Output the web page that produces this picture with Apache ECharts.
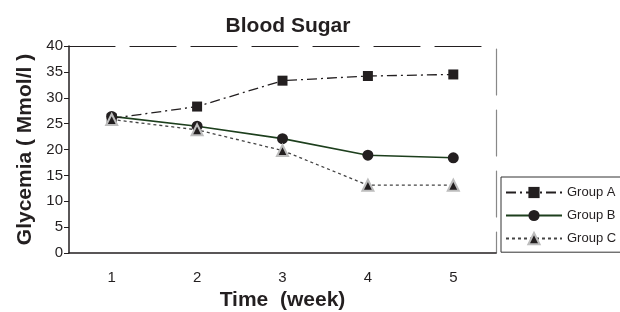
<!DOCTYPE html>
<html>
<head>
<meta charset="utf-8">
<script src="https://cdn.jsdelivr.net/npm/echarts@6/dist/echarts.min.js"></script>
<style>
  html, body { margin: 0; padding: 0; background: #fff; }
  #main { width: 620px; height: 312px; }
</style>
</head>
<body>
<div id="main"></div>
<script>
var weeks = ['1', '2', '3', '4', '5'];
var groupA = [26, 28.3, 33.3, 34.2, 34.5];
var groupB = [26.4, 24.5, 22.1, 18.9, 18.4];
var groupC = [25.8, 23.8, 19.8, 13.1, 13.1];

var ink = '#231f20';
var myChart = echarts.init(document.getElementById('main'));

var option = {
  backgroundColor: '#fff',
  animation: false,
  title: {
    text: 'Blood Sugar',
    left: 283,
    textAlign: 'center',
    top: 11,
    textStyle: { fontFamily: 'Liberation Sans', fontSize: 21, fontWeight: 'bold', color: ink }
  },
  legend: {
    orient: 'vertical',
    left: 501,
    top: 177,
    borderColor: '#333',
    borderWidth: 1,
    borderRadius: 0,
    padding: [9, 10, 7, 4],
    itemWidth: 56,
    itemHeight: 14,
    itemGap: 10,
    textStyle: { fontFamily: 'Liberation Sans', fontSize: 13, color: ink },
    data: ['Group A', 'Group B', 'Group C']
  },
  grid: { left: 69, right: 124, top: 46, bottom: 59, outerBoundsMode: 'none' },
  xAxis: [{
    type: 'category',
    data: weeks,
    boundaryGap: true,
    name: 'Time  (week)',
    nameLocation: 'middle',
    nameGap: 34,
    nameTextStyle: { fontFamily: 'Liberation Sans', fontSize: 21, fontWeight: 'bold', color: ink },
    axisLine: { show: true, onZero: false, lineStyle: { color: ink, width: 1.5 } },
    axisTick: { length: 5, lineStyle: { color: ink } },
    axisLabel: { margin: 17, fontFamily: 'Liberation Sans', fontSize: 15, color: ink }
  }, {
    type: 'category',
    data: weeks,
    position: 'top',
    axisLine: { onZero: false, lineStyle: { color: ink, width: 1.2, type: [46, 15] } },
    axisTick: { show: false },
    axisLabel: { show: false }
  }],
  yAxis: [{
    type: 'value',
    min: 0,
    max: 40,
    interval: 5,
    name: 'Glycemia ( Mmol/l )',
    nameLocation: 'middle',
    nameGap: 33,
    nameTextStyle: { fontFamily: 'Liberation Sans', fontSize: 21, fontWeight: 'bold', color: ink },
    axisLine: { show: true, onZero: false, lineStyle: { color: ink, width: 1.5 } },
    axisTick: { show: true, length: 5, lineStyle: { color: ink } },
    axisLabel: { margin: 6, fontFamily: 'Liberation Sans', fontSize: 15, color: ink },
    splitLine: { show: false }
  }, {
    type: 'value',
    min: 0,
    max: 40,
    interval: 5,
    position: 'right',
    axisLine: { show: true, onZero: false, lineStyle: { color: '#888', width: 1.2, type: [46, 15], dashOffset: 25 } },
    axisTick: { show: false },
    axisLabel: { show: false },
    splitLine: { show: false }
  }],
  series: [{
    name: 'Group A',
    type: 'line',
    data: groupA,
    symbol: 'rect',
    symbolSize: 10,
    itemStyle: { color: ink },
    lineStyle: { color: ink, width: 1.3, type: [10, 4, 2, 4] },
    z: 3
  }, {
    name: 'Group B',
    type: 'line',
    data: groupB,
    symbol: 'circle',
    symbolSize: 11,
    itemStyle: { color: ink },
    lineStyle: { color: '#1d3f1d', width: 1.6 },
    z: 2
  }, {
    name: 'Group C',
    type: 'line',
    data: groupC,
    symbol: 'triangle',
    symbolSize: 11,
    itemStyle: { color: ink, borderColor: '#bdbdbd', borderWidth: 2 },
    lineStyle: { color: '#444', width: 1.3, type: [3, 3] },
    z: 4
  }]
};

myChart.setOption(option);
</script>
</body>
</html>
